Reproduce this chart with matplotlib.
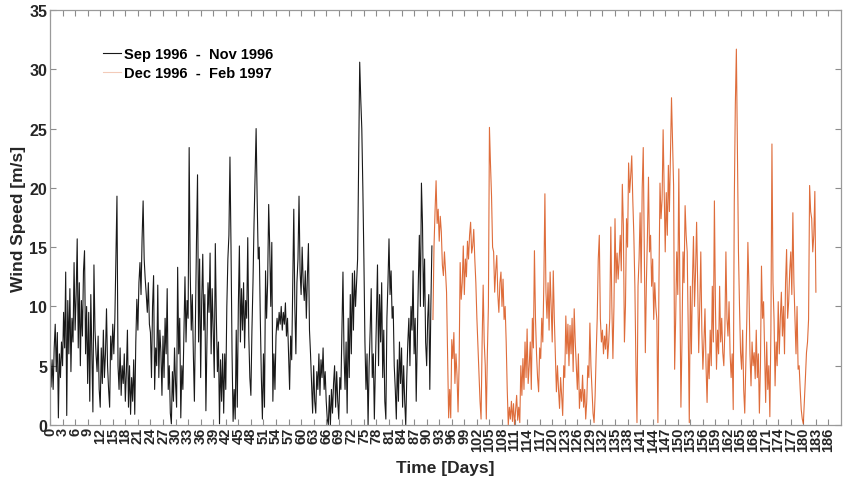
import numpy as np
import matplotlib
import matplotlib.pyplot as plt

plt.switch_backend('agg')
plt.rcParams['font.family'] = ['Liberation Sans', 'DejaVu Sans']

# 6-hourly wind speed [m/s]
# Sep 1996 - Nov 1996, day 0 .. 91.25 (one row = one day)
autumn = [
    7.0, 3.2, 5.5, 3.0,    6.5, 8.5, 4.5, 7.8,    0.6, 6.0, 4.0, 7.0,
    5.0, 9.5, 6.5, 12.9,   0.8, 10.5, 6.0, 11.5,  4.5, 9.0, 7.0, 13.7,
    8.0, 11.0, 15.7, 6.5,  12.0, 5.0, 10.5, 7.5,  13.0, 14.7, 6.0, 10.0,
    3.5, 9.5, 2.0, 11.0,   6.0, 1.1, 13.5, 8.0,   6.0, 4.5, 7.5, 3.0,
    1.5, 6.5, 3.5, 8.0,    4.0, 6.0, 9.8, 5.0,    3.0, 1.5, 7.5, 5.5,
    8.5, 6.0, 9.0, 14.0,   19.3, 5.0, 3.0, 6.5,   2.5, 5.0, 3.5, 6.0,
    2.0, 4.5, 8.0, 1.5,    5.0, 0.9, 4.0, 2.0,    5.5, 0.9, 7.0, 10.6,
    8.0, 12.0, 13.7, 11.0, 15.7, 18.9, 14.0, 12.3, 11.0, 9.5, 12.0, 8.5,
    7.8, 4.0, 10.0, 12.6,  3.0, 6.5, 5.0, 11.8,   4.0, 8.0, 6.1, 2.5,
    7.5, 4.0, 9.0, 6.0,    11.5, 3.0, 5.0, 1.0,   0.1, 4.5, 2.0, 6.5,
    3.5, 1.5, 13.3, 6.0,   9.0, 0.6, 5.0, 3.0,    8.0, 12.5, 7.0, 10.5,
    9.0, 23.4, 13.0, 8.0,  11.0, 6.0, 2.0, 9.0,   15.5, 21.1, 7.0, 14.0,
    4.0, 10.5, 14.4, 8.0,  11.0, 1.2, 7.0, 12.0,  9.5, 14.5, 6.0, 11.5,
    8.0, 4.0, 15.3, 9.0,   4.5, 7.0, 0.1, 5.5,    2.0, 6.0, 1.0, 6.0,
    3.0, 10.0, 14.0, 16.0, 22.6, 15.0, 6.0, 0.3,  3.0, 0.5, 8.0, 1.5,
    10.0, 15.1, 7.0, 11.5, 8.0, 12.0, 6.5, 10.5,  9.0, 15.8, 7.5, 4.0,
    2.5, 8.0, 12.0, 17.0,  21.0, 25.0, 19.0, 14.0, 15.0, 9.0, 4.0, 0.5,
    6.0, 1.5, 13.0, 9.0,   12.0, 18.6, 15.0, 10.0, 15.4, 2.0, 6.0, 3.0,
    7.5, 9.0, 8.0, 9.5,    8.5, 10.0, 8.0, 9.5,   8.5, 10.3, 7.5, 9.0,
    6.0, 3.0, 7.5, 5.5,    12.0, 18.2, 10.0, 6.0, 12.0, 14.0, 19.3, 13.0,
    11.0, 15.0, 12.0, 10.5, 13.0, 9.0, 12.5, 15.3, 8.0, 6.0, 3.5, 1.0,
    5.0, 2.0, 1.0, 4.5,    3.0, 6.0, 2.5, 5.5,    4.0, 6.5, 3.0, 4.5,
    2.0, 0.5, 0.0, 2.5,    0.0, 3.0, 1.0, 3.5,    5.0, 1.5, 4.5, 2.0,
    0.5, 4.0, 3.0, 8.0,    12.9, 6.0, 3.0, 7.0,   1.0, 9.0, 4.0, 11.0,
    6.0, 12.8, 8.0, 13.0,  10.0, 12.0, 14.0, 22.0, 30.6, 27.5, 25.0, 20.0,
    14.0, 7.0, 3.0, 6.0,   0.0, 5.0, 8.0, 11.5,   4.0, 6.0, 0.5, 5.0,
    9.0, 13.5, 5.0, 11.0,  7.0, 12.0, 4.0, 8.0,   2.0, 0.5, 9.0, 12.0,
    15.7, 11.0, 13.0, 9.0, 10.0, 5.0, 3.0, 0.5,   5.5, 2.0, 7.0, 3.5,
    6.5, 1.5, 5.0, 2.0,    0.0, 4.0, 7.0, 9.0,    5.0, 10.0, 8.0, 13.0,
    6.0, 9.0, 2.0, 7.0,    12.0, 16.0, 10.0, 20.4, 17.0, 10.0, 14.0, 7.0,
    5.0, 9.0, 11.0, 3.0,   10.0, 15.1,
]

# Dec 1996 - Feb 1997, day 91.5 .. 183
winter = [
    8.9, 15.0,
    18.0, 20.6, 17.0, 18.2,  15.5, 17.6, 16.3, 13.5,  12.6, 14.6, 13.0, 11.2,
    6.0, 0.6, 3.0, 0.6,      7.2, 5.6, 7.8, 3.5,      6.0, 4.2, 1.1, 5.0,
    13.7, 10.6, 12.0, 15.1,  11.0, 14.0, 12.5, 15.5,  14.0, 16.0, 17.1, 14.5,
    15.1, 16.5, 14.0, 12.0,  9.0, 6.7, 4.2, 2.0,      0.5, 7.0, 11.8, 7.0,
    5.0, 0.5, 6.0, 10.0,     25.1, 22.0, 19.3, 15.0,  14.6, 11.2, 13.0, 14.3,
    11.0, 9.5, 12.0, 12.9,   10.0, 12.3, 8.9, 10.0,   7.0, 3.0, 0.0, 1.5,
    0.5, 2.0, 0.3, 1.8,      0.0, 1.2, 2.5, 0.4,      1.5, 0.2, 5.0, 2.5,
    5.6, 3.0, 7.0, 4.0,      8.1, 3.5, 5.0, 7.0,      3.0, 9.0, 6.5, 14.7,
    9.0, 6.0, 4.0, 2.8,      6.5, 5.6, 9.0, 7.0,      12.0, 19.5, 11.2, 9.0,
    12.0, 8.0, 12.9, 10.0,   7.0, 13.0, 9.0, 6.0,     2.8, 5.0, 3.0, 1.4,
    4.0, 2.5, 0.8, 5.0,      4.0, 9.2, 6.0, 8.5,      5.0, 8.4, 6.0, 9.0,
    4.5, 9.8, 7.0, 5.0,      3.0, 6.0, 1.4, 3.0,      2.0, 4.2, 1.5, 3.0,
    0.5, 2.0, 5.0, 4.0,      8.6, 5.0, 3.0, 1.0,      0.2, 2.5, 6.0, 9.0,
    14.0, 16.0, 9.0, 7.0,    8.0, 6.0, 7.5, 6.4,      8.5, 5.6, 7.0, 9.0,
    16.7, 10.0, 5.6, 10.0,   17.4, 12.0, 14.5, 12.3,  14.0, 16.0, 13.0, 20.3,
    16.8, 7.0, 10.0, 17.4,   15.0, 22.1, 19.6, 21.0,  22.7, 19.0, 16.0, 11.7,
    5.0, 0.2, 11.7, 14.0,    17.9, 12.0, 20.0, 23.4,  14.6, 6.1, 12.0, 16.0,
    20.9, 14.6, 16.0, 11.7,  14.0, 8.9, 12.0, 10.0,   8.9, 0.2, 12.0, 20.4,
    17.4, 19.0, 24.9, 20.0,  14.6, 19.6, 16.0, 21.9,  18.0, 23.0, 27.6, 24.0,
    20.2, 4.7, 9.0, 14.6,    11.0, 21.6, 12.0, 1.5,   7.0, 14.6, 12.0, 18.5,
    16.0, 14.6, 8.0, 0.2,    11.7, 6.0, 12.0, 15.9,   10.0, 13.0, 17.1, 12.0,
    6.1, 10.0, 14.6, 8.0,    4.7, 7.0, 9.8, 5.0,      1.9, 6.0, 3.9, 8.0,
    5.0, 11.7, 7.0, 18.9,    10.0, 4.7, 8.0, 6.0,     11.7, 7.0, 9.0, 6.1,
    5.0, 8.0, 14.6, 9.0,     7.5, 10.4, 6.0, 4.0,     6.0, 1.3, 18.8, 27.0,
    31.7, 23.0, 14.6, 10.0,  6.1, 4.7, 8.0, 3.0,      1.0, 5.0, 9.0, 15.4,
    11.7, 6.0, 3.3, 7.0,     5.0, 6.1, 3.9, 8.0,      4.0, 6.0, 1.0, 5.0,
    13.4, 9.0, 10.4, 6.0,    1.9, 7.0, 3.0, 5.0,      0.7, 8.0, 23.7, 12.0,
    8.9, 3.3, 7.0, 5.0,      10.4, 6.0, 9.0, 11.2,    7.5, 10.0, 6.0, 12.0,
    14.8, 9.0, 10.4, 13.0,   14.6, 11.0, 17.9, 12.0,  8.9, 6.0, 10.0, 4.7,
    5.0, 3.0, 1.3, 0.5,      0.1, 2.0, 4.0, 6.1,      7.0, 8.9, 20.2, 18.0,
    17.4, 14.6, 16.0, 19.7,
    11.2,
]

labels = ['Sep 1996  -  Nov 1996', 'Dec 1996  -  Feb 1997']

dt = 0.25
t_aut = np.arange(len(autumn)) * dt
t_win = 91.5 + np.arange(len(winter)) * dt

fig = plt.figure(figsize=(8.51, 4.85), dpi=100)
ax = fig.add_axes([50/851, 59/485, 791/851, 415/485])

ax.plot(t_aut, autumn, color='black', lw=0.8, alpha=0.9, label=labels[0])
ax.plot(t_win, winter, color='#D95319', lw=0.8, alpha=0.85, label=labels[1])

ax.set_xlim(0, 189)
ax.set_ylim(0, 35)
ax.set_xticks(np.arange(0, 187, 3))
ax.set_yticks(np.arange(0, 36, 5))
ax.tick_params(direction='in', length=4, width=0.8, color='#8c8c8c',
               top=True, right=True, labelcolor='#262626', pad=2)
ax.tick_params(axis='y', labelsize=11.5)
ax.tick_params(axis='x', labelsize=10.5, labelrotation=90, pad=1.5)
for lab in ax.get_xticklabels() + ax.get_yticklabels():
    lab.set_fontweight('bold')
for sp in ax.spines.values():
    sp.set_color('#9a9a9a')
    sp.set_linewidth(0.9)

ax.set_xlabel('Time [Days]', fontsize=12.5, fontweight='bold', color='#262626')
ax.set_ylabel('Wind Speed [m/s]', fontsize=12.5, fontweight='bold', color='#262626')
ax.xaxis.set_label_coords(0.5, -0.085)
ax.yaxis.set_label_coords(-0.03, 0.5)

leg = ax.legend(loc='upper left', bbox_to_anchor=(0.051, 0.943), frameon=False,
                handlelength=1.2, handletextpad=0.2, labelspacing=0.35,
                prop={'weight': 'bold', 'size': 10.5})
leg.get_lines()[1].set_alpha(0.3)

plt.savefig('out.png', dpi=100)
